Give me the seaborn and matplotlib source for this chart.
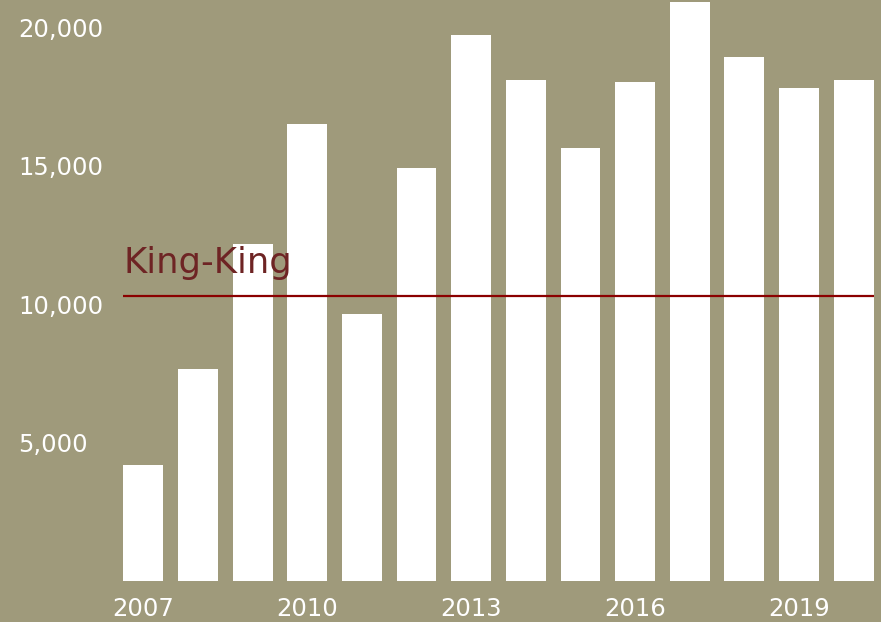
import matplotlib
matplotlib.use("Agg")
import matplotlib.pyplot as plt
import seaborn as sns
import pandas as pd

years = [2007, 2008, 2009, 2010, 2011, 2012, 2013, 2014, 2015, 2016, 2017, 2018, 2019, 2020]
values = [4200, 7650, 12150, 16500, 9650, 14900, 19700, 18100, 15650, 18000, 20900, 18900, 17800, 18100]
ref_label = "King-King"
ref_value = 10300
y_ticks = [5000, 10000, 15000, 20000]
x_tick_years = [2007, 2010, 2013, 2016, 2019]

BG = "#9f9a7b"
sns.set_theme(style="white")
plt.rcParams["font.family"] = ["DejaVu Sans"]

fig = plt.figure(figsize=(8.81, 6.22), dpi=100, facecolor=BG)
ax = fig.add_axes([116 / 881, 41 / 622, 765 / 881, 581 / 622])
ax.set_facecolor(BG)

df = pd.DataFrame({"year": years, "value": values})
sns.barplot(data=df, x="year", y="value", color="white", width=0.73,
            saturation=1, edgecolor="none", ax=ax)

ax.set_xlim(-0.5, len(years) - 0.5)
ax.set_ylim(0, 20975)

ax.set_xticks([years.index(y) for y in x_tick_years])
ax.set_xticklabels([str(y) for y in x_tick_years])
ax.set_yticks(y_ticks)
ax.set_yticklabels([f"{v:,}" for v in y_ticks])
ax.tick_params(axis="x", length=0, pad=11.5, labelsize=17.5, labelcolor="white")
ax.tick_params(axis="y", length=0, pad=70.5, labelsize=17.5, labelcolor="white")
for lab in ax.get_yticklabels():
    lab.set_horizontalalignment("left")

x0 = -0.365
x1 = len(years) - 1 + 0.365
ax.hlines(ref_value, x0, x1, color="#8b0000", linewidth=1.6, zorder=5)
ax.annotate(ref_label, xy=(x0, ref_value), xytext=(0, 16), textcoords="offset points",
            ha="left", va="baseline", fontsize=25.5, color="#6e2424")

ax.set_xlabel("")
ax.set_ylabel("")
for s in ax.spines.values():
    s.set_visible(False)

fig.savefig("out.png", dpi=100, facecolor=BG)
